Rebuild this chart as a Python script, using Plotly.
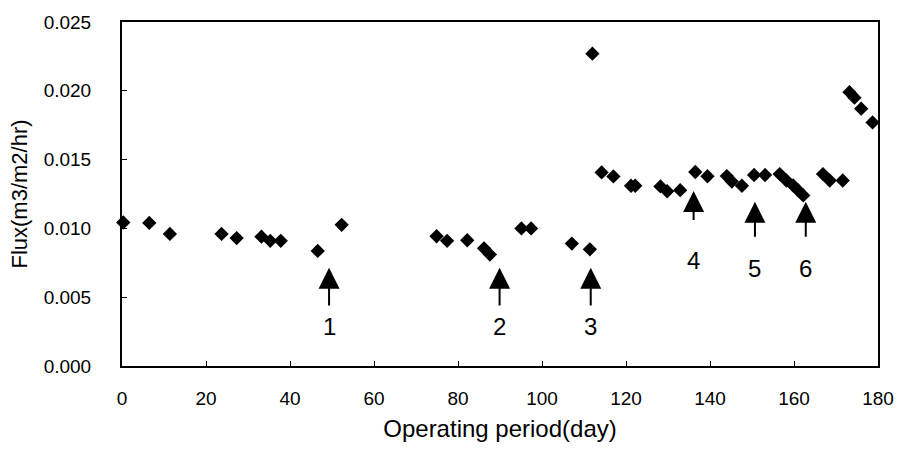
import plotly.graph_objects as go

# Operating period (day) and flux (m3/m2/hr)
days = [0.3, 6.5, 11.4, 23.7, 27.3, 33.2, 35.3, 37.8, 46.6, 52.3,
        74.9, 77.4, 82.2, 86.2, 87.6, 95.1, 97.4, 107.1, 111.4, 112.0,
        114.2, 117.0, 121.2, 122.2, 128.2, 129.8, 132.9, 136.5, 139.4,
        144.0, 145.2, 147.6, 150.5, 153.1, 156.6, 158.2, 159.8, 161.0,
        162.2, 166.9, 168.5, 171.6, 173.2, 174.4, 176.0, 178.7]
flux = [0.01043, 0.0104, 0.0096, 0.0096, 0.0093, 0.0094, 0.0091, 0.0091, 0.00836, 0.01026,
        0.00943, 0.0091, 0.00914, 0.00855, 0.0081, 0.0100, 0.0100, 0.0089, 0.00848, 0.0227,
        0.01407, 0.01378, 0.0131, 0.0131, 0.01305, 0.0127, 0.01278, 0.0141, 0.01379,
        0.0138, 0.0134, 0.0131, 0.01388, 0.01388, 0.01395, 0.01348, 0.01312, 0.01276,
        0.0124, 0.01395, 0.01348, 0.01348, 0.0199, 0.0195, 0.0187, 0.0177]

# Event arrows
arrow_labels = ["1", "2", "3", "4", "5", "6"]
arrow_days = [49.3, 89.9, 111.6, 136.1, 150.7, 162.8]
arrow_tip = [0.00714, 0.00714, 0.00714, 0.01271, 0.01193, 0.01193]
arrow_tail = [0.00429, 0.00429, 0.00429, 0.0105, 0.00929, 0.00929]
label_pos = [0.00286, 0.00286, 0.00286, 0.00764, 0.00707, 0.00707]

x_ticks = [0, 20, 40, 60, 80, 100, 120, 140, 160, 180]
y_ticks = [0.000, 0.005, 0.010, 0.015, 0.020, 0.025]

FONT = "Liberation Sans, Arial, sans-serif"

fig = go.Figure()
fig.add_trace(go.Scatter(
    x=days, y=flux, mode="markers",
    marker=dict(symbol="diamond", size=11, color="black"),
    showlegend=False, cliponaxis=False,
))

for lab, xd, tip, tail, lp in zip(arrow_labels, arrow_days, arrow_tip, arrow_tail, label_pos):
    fig.add_annotation(
        x=xd, y=tip, ax=xd, ay=tail, xref="x", yref="y", axref="x", ayref="y",
        text="", showarrow=True, arrowhead=2, arrowsize=2.1, arrowwidth=2,
        arrowcolor="black", standoff=0,
    )
    fig.add_annotation(
        x=xd, y=lp, xref="x", yref="y", text=lab, showarrow=False,
        font=dict(family=FONT, size=24, color="black"),
    )

fig.update_layout(
    width=906, height=450,
    margin=dict(l=122, r=24, t=16, b=83),
    plot_bgcolor="white", paper_bgcolor="white",
    font=dict(family=FONT, color="black"),
    xaxis=dict(
        range=[0, 180], tickvals=x_ticks, ticktext=[str(v) for v in x_ticks],
        ticks="inside", ticklen=5, tickwidth=1, tickcolor="black",
        showline=True, linecolor="black", linewidth=2, mirror=True,
        showgrid=False, zeroline=False,
        tickfont=dict(family=FONT, size=19, color="black"),
        ticklabelstandoff=14,
        title=dict(text="Operating period(day)",
                   font=dict(family=FONT, size=24, color="black"), standoff=12),
    ),
    yaxis=dict(
        range=[0, 0.025], tickvals=y_ticks, ticktext=[f"{v:.3f}" for v in y_ticks],
        ticks="inside", ticklen=5, tickwidth=1, tickcolor="black",
        showline=True, linecolor="black", linewidth=2, mirror=True,
        showgrid=False, zeroline=False,
        tickfont=dict(family=FONT, size=19, color="black"),
        ticklabelstandoff=25,
        title=dict(text="Flux(m3/m2/hr)",
                   font=dict(family=FONT, size=22, color="black"), standoff=10),
    ),
)

fig.write_html("out.html")
